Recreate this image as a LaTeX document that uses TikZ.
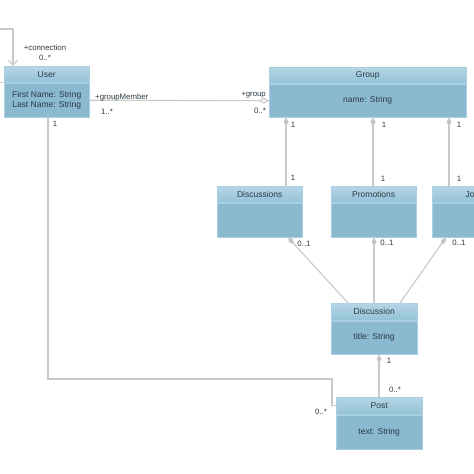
\documentclass[tikz,border=0pt]{standalone}
\usepackage{fontspec}
\setmainfont{Liberation Sans}
\usetikzlibrary{arrows.meta}
\definecolor{hdtop}{HTML}{B5D6E6}
\definecolor{hdbot}{HTML}{94C2D7}
\definecolor{bodyc}{HTML}{8AB9D0}
\definecolor{boxedge}{HTML}{A9CFE1}
\definecolor{txt}{HTML}{2B3A45}
\definecolor{lnc}{HTML}{C9C9C9}
\definecolor{dia}{HTML}{BEBEBE}
\tikzset{
  hdr/.style={rectangle, top color=hdtop, bottom color=hdbot, draw=boxedge, line width=0.4pt,
    minimum width=#1, minimum height=16pt, inner sep=0pt, anchor=north west, text=txt,
    font=\fontsize{8.5}{10}\selectfont},
  bdy/.style={rectangle, fill=bodyc, draw=boxedge, line width=0.4pt, minimum width=#1,
    inner sep=0pt, anchor=north west, text=txt, align=center,
    font=\fontsize{8.5}{10.5}\selectfont},
  conn/.style={draw=lnc, line width=1.1pt},
  lbl/.style={text=txt, inner sep=0pt, font=\fontsize{7.8}{9}\selectfont},
  comp/.style={Diamond[length=9pt,width=5.5pt,fill=dia,color=dia]},
  aggr/.style={Diamond[open,length=10pt,width=6pt,fill=white,color=lnc]},
}
\begin{document}
\begin{tikzpicture}[x=1pt,y=-1pt]
\useasboundingbox (0,0) rectangle (474,474);
\clip (0,0) rectangle (474,474);
\fill[white] (0,0) rectangle (474,474);

% classes
\node[hdr=85pt] (userH) at (4,66) {User};
\node[bdy=85pt, minimum height=34pt] (userB) at (4,83) {First Name: String\\Last Name: String};

\node[hdr=197pt] (groupH) at (269,67) {Group};
\node[bdy=197pt, minimum height=33pt] (groupB) at (269,84) {name: String};

\node[hdr=85pt] (discsH) at (217,186) {Discussions};
\node[bdy=85pt, minimum height=34pt] (discsB) at (217,203) {};

\node[hdr=85pt] (promH) at (331,186) {Promotions};
\node[bdy=85pt, minimum height=34pt] (promB) at (331,203) {};

\node[hdr=85pt] (jobsH) at (432,186) {Jobs};
\node[bdy=85pt, minimum height=34pt] (jobsB) at (432,203) {};

\node[hdr=86pt, minimum height=17pt] (discH) at (331,303) {Discussion};
\node[bdy=86pt, minimum height=33pt] (discB) at (331,321) {title: String};

\node[hdr=86pt, minimum height=17pt] (postH) at (336,397) {Post};
\node[bdy=86pt, minimum height=34pt] (postB) at (336,415) {text: String};

% helper coordinates
\coordinate (xl) at (-10,0);
\coordinate (xu) at (13,0);
\coordinate (ytop) at (0,29);
\coordinate (c1) at (286,0);
\coordinate (c2) at (373,0);
\coordinate (c3) at (449,0);
\coordinate (d1) at (348,0);
\coordinate (d2) at (374,0);
\coordinate (d3) at (400,0);
\coordinate (e1) at (288,0);
\coordinate (e3) at (446,0);
\coordinate (cp) at (379,0);
\coordinate (cu) at (48,0);
\coordinate (k1) at (332,379);

% self association
\draw[conn, -{Straight Barb[length=5pt,width=9pt]}]
  (userH.south west) -- (userH.south west -| xl) |- (ytop -| xu) -- (userH.north -| xu);
% user - group aggregation
\draw[conn, -{Diamond[open,length=10pt,width=6pt]}] (userB.east) -- (groupB.west);
% group compositions
\draw[conn, {Diamond[length=9pt,width=5pt,fill=dia]}-] (groupB.south -| c1) -- (discsH.north -| c1);
\draw[conn, {Diamond[length=9pt,width=5pt,fill=dia]}-] (groupB.south -| c2) -- (promH.north -| c2);
\draw[conn, {Diamond[length=9pt,width=5pt,fill=dia]}-] (groupB.south -| c3) -- (jobsH.north -| c3);
% discussion to containers
\draw[conn, -{Diamond[length=9pt,width=5pt,fill=dia]}] (discH.north -| d1) -- (discsB.south -| e1);
\draw[conn, -{Diamond[length=9pt,width=5pt,fill=dia]}] (discH.north -| d2) -- (promB.south -| d2);
\draw[conn, -{Diamond[length=9pt,width=5pt,fill=dia]}] (discH.north -| d3) -- (jobsB.south -| e3);
% discussion to post
\draw[conn, {Diamond[length=9pt,width=5pt,fill=dia]}-] (discB.south -| cp) -- (postH.north -| cp);
% user to post
\draw[conn] (userB.south -| cu) |- (k1) |- (postH.west);

% labels
\node[lbl] (l1) at (45,48) {+connection};
\node[lbl] (l2) at (45,58) {0..*};
\node[lbl, anchor=west] (l3) at (95,97) {+groupMember};
\node[lbl, anchor=west] (l4) at (101,112) {1..*};
\node[lbl] (l5) at (55,124) {1};
\node[lbl, anchor=east] (l6) at (266,95) {+group};
\node[lbl, anchor=east] (l7) at (266,111) {0..*};
\node[lbl] (l8) at (293,125) {1};
\node[lbl] (l9) at (384,125) {1};
\node[lbl] (l10) at (459,125) {1};
\node[lbl] (l11) at (293,178) {1};
\node[lbl] (l12) at (383,179) {1};
\node[lbl] (l13) at (459,179) {1};
\node[lbl] (l14) at (304,244) {0..1};
\node[lbl] (l15) at (387,243) {0..1};
\node[lbl] (l16) at (459,243) {0..1};
\node[lbl] (l17) at (389,361) {1};
\node[lbl] (l18) at (395,390) {0..*};
\node[lbl] (l19) at (321,412) {0..*};
\end{tikzpicture}
\end{document}
